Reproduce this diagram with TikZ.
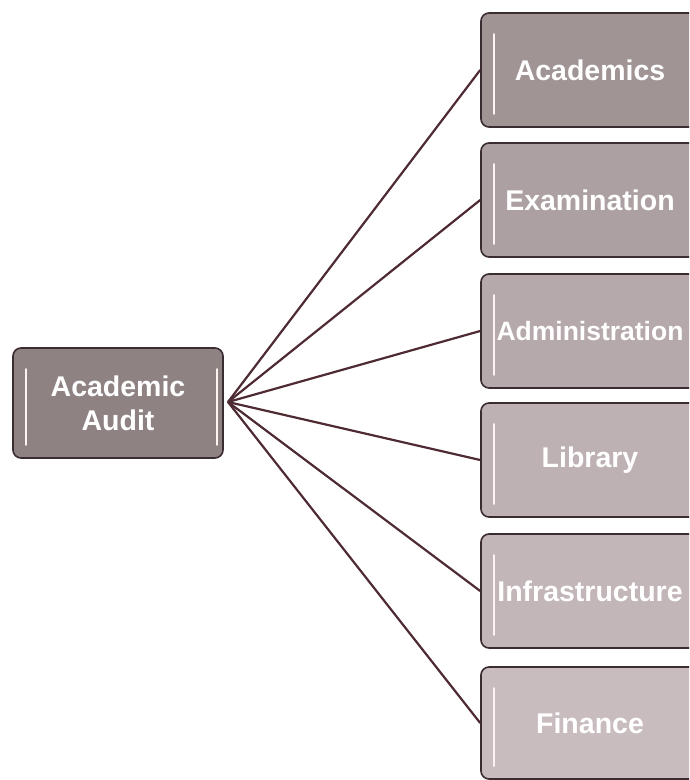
\documentclass[tikz,border=0pt]{standalone}
\usepackage{fontspec}
\setmainfont{Liberation Sans}
\definecolor{ecol}{HTML}{4E2A33}
\definecolor{bcol}{HTML}{3A2C30}
\tikzstyle{block}=[draw=bcol, line width=1.6pt, rounded corners=8pt, minimum width=218pt, minimum height=114pt, text=white, font=\bfseries\fontsize{28.5}{34}\selectfont, align=center, inner sep=0pt]
\tikzstyle{edge}=[line width=2.2pt,ecol]
\tikzstyle{gloss}=[line width=2.5pt, white!80!pink, line cap=round]

\begin{document}
\begin{tikzpicture}[x=1pt,y=-1pt]
			\useasboundingbox (0,0) rectangle (689,780);
			\clip (0,0) rectangle (689,780);

			\node[block, fill={rgb,255:red,142;green,130;blue,131}, minimum width=210pt, minimum height=110pt] (audit) at (118,403) {Academic\\Audit};

			\node[block, fill={rgb,255:red,160;green,148;blue,149}] (acad) at (590,70) {Academics};
			\node[block, fill={rgb,255:red,172;green,160;blue,162}] (exam) at (590,200) {Examination};
			\node[block, fill={rgb,255:red,182;green,169;blue,172}, font=\bfseries\fontsize{26.5}{34}\selectfont] (admin) at (590,331) {Administration};
			\node[block, fill={rgb,255:red,190;green,177;blue,180}] (lib) at (590,460) {Library};
			\node[block, fill={rgb,255:red,195;green,182;blue,185}] (infra) at (590,591) {Infrastructure};
			\node[block, fill={rgb,255:red,200;green,188;blue,191}, minimum height=112pt] (fin) at (590,723) {Finance};

			% Gloss strips
			\foreach \n in {audit,acad,exam,admin,lib,infra,fin}
				\draw[gloss] ([xshift=14pt,yshift=-22pt]\n.north west) -- ([xshift=14pt,yshift=14pt]\n.south west);
			\draw[gloss] ([xshift=-7pt,yshift=-22pt]audit.north east) -- ([xshift=-7pt,yshift=14pt]audit.south east);

			% Connectors
			\coordinate (hub) at (228,402);
			\draw[edge] (hub)edge(acad.west) (hub)edge(exam.west) (hub)edge(admin.west);
			\draw[edge] (hub)edge(lib.west) (hub)edge(infra.west) (hub)edge(fin.west);
		\end{tikzpicture}
\end{document}
